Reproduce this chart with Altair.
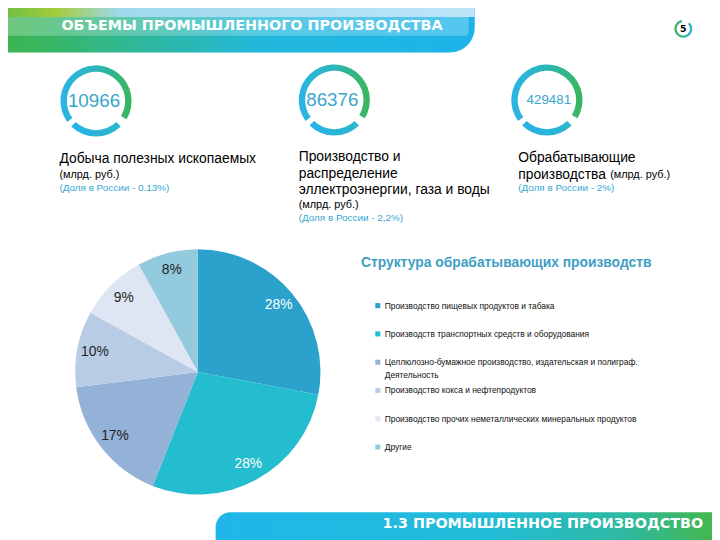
import math
import altair as alt
import pandas as pd

OX, OY = 8, 8          # page margin offset
W, H = 712, 532

# ---------------- data ----------------
sectors = [
    "Производство пищевых продуктов и табака",
    "Производств транспортных средств и оборудования",
    "Целлюлозно-бумажное производство, издательская и полиграф.\nДеятельность",
    "Производство кокса и нефтепродуктов",
    "Производство прочих неметаллических минеральных продуктов",
    "Другие",
]
shares = [28, 28, 17, 10, 9, 8]
palette = ["#2aa2cc", "#24bccf", "#94b2d7", "#b9cce6", "#dde6f2", "#94cade"]

kpi_values = ["10966", "86376", "429481"]
kpi_titles = [
    ["Добыча полезных ископаемых"],
    ["Производство и", "распределение", "эллектроэнергии, газа и воды"],
    ["Обрабатывающие", "производства"],
]
unit_label = "(млрд. руб.)"
kpi_shares = ["(Доля в России - 0.13%)", "(Доля в России - 2,2%)", "(Доля в России - 2%)"]

header_title = "ОБЪЕМЫ ПРОМЫШЛЕННОГО ПРОИЗВОДСТВА"
footer_title = "1.3 ПРОМЫШЛЕННОЕ ПРОИЗВОДСТВО"
page_no = "5"
pie_title = "Структура обрабатывающих производств"

# ---------------- helpers ----------------
one = alt.Data(values=[{"a": 1}])


def grad(stops, horizontal=True):
    return alt.LinearGradient(
        gradient="linear",
        stops=[alt.GradientStop(color=c, offset=o) for o, c in stops],
        x1=0, x2=1 if horizontal else 0, y1=0, y2=0 if horizontal else 1,
    )


def rect(x1, y1, x2, y2, fill, **kw):
    return alt.Chart(one).mark_rect(fill=fill, **kw).encode(
        x=alt.value(x1 - OX), x2=alt.value(x2 - OX),
        y=alt.value(y1 - OY), y2=alt.value(y2 - OY),
    )


def text(s, x, y, size, color="#000000", weight="normal", align="left",
         font="Liberation Sans", baseline="middle"):
    return alt.Chart(one).mark_text(
        text=s, fontSize=size, color=color, fontWeight=weight, align=align,
        font=font, baseline=baseline,
    ).encode(x=alt.value(x - OX), y=alt.value(y - OY))


def arc(cx, cy, r, r2, t1, t2, fill):
    return alt.Chart(one).mark_arc(
        radius=r, radius2=r2, theta=math.radians(t1), theta2=math.radians(t2),
        fill=fill,
    ).encode(x=alt.value(cx - OX), y=alt.value(cy - OY))


layers = []

# ---------------- header band ----------------
layers.append(rect(0, 0, 480, 50,
                   grad([(0, "#3db54a"), (0.3, "#2eb79c"), (0.55, "#22b8dc"), (1, "#1cb3ea")]),
                   cornerRadiusBottomRight=30))
layers.append(rect(0, 14, 474, 33, "#ffffff", opacity=0.25, cornerRadiusBottomRight=4))
layers.append(rect(0, 0, 480, 14,
                   grad([(0, "#6cbd45"), (0.12, "#a5cd3b"), (0.25, "#9fd8ec"), (1, "#bde5f8")])))
layers.append(text(header_title, 62, 23, 14.5, "#ffffff", "bold", font="DejaVu Sans"))

# page number
layers.append(arc(691, 26, 9, 6.8, 45, 350,
                  grad([(0, "#3ab55a"), (1, "#2ab4d0")])))
layers.append(text(page_no, 691, 26, 9.5, "#000000", "bold", "center", font="DejaVu Sans"))

# ---------------- KPI rings ----------------
ring_fill = grad([(0, "#29b5e6"), (0.5, "#2bb6b8"), (1, "#3ab65a")])
bottom_fill = grad([(0, "#27b2e6"), (1, "#2cb7cc")])
centers = [(97, 99), (338, 98), (553, 98)]
num_sizes = [19, 19, 13.5]
for (cx, cy), val, ns in zip(centers, kpi_values, num_sizes):
    layers.append(arc(cx, cy, 36, 29.5, 234, 481, ring_fill))
    layers.append(arc(cx, cy, 36, 29.5, 136, 224, bottom_fill))
    layers.append(text(val, cx - 2 if ns > 15 else cx + 2, cy, ns, "#3aa6cb", align="center"))

teal = "#35a8d2"
# KPI 1
layers.append(text(kpi_titles[0][0], 60, 158, 14))
layers.append(text(unit_label, 60, 174, 11))
layers.append(text(kpi_shares[0], 60, 187, 10, teal))
# KPI 2
for i, line in enumerate(kpi_titles[1]):
    layers.append(text(line, 302, 156 + 16.5 * i, 14))
layers.append(text(unit_label, 302, 204, 11))
layers.append(text(kpi_shares[1], 302, 217, 10, teal))
# KPI 3
layers.append(text(kpi_titles[2][0], 524, 157, 14))
layers.append(text(kpi_titles[2][1], 524, 174, 14))
layers.append(text(unit_label, 617, 174, 11))
layers.append(text(kpi_shares[2], 524, 187, 10, teal))

# ---------------- pie ----------------
df = pd.DataFrame({"idx": list(range(len(sectors))), "sector": sectors, "share": shares})
color_scale = alt.Scale(domain=sectors, range=palette)
PX, PY = 200, 373

base = alt.Chart(df).encode(
    theta=alt.Theta("share:Q", stack=True),
    order=alt.Order("idx:Q"),
    x=alt.value(PX - OX), y=alt.value(PY - OY),
)
layers.append(base.mark_arc(radius=124).encode(
    color=alt.Color("sector:N", scale=color_scale, legend=None)))
layers.append(base.mark_text(radius=106, fontSize=14, font="Liberation Sans")
              .transform_calculate(label="datum.share + '%'")
              .encode(text=alt.Text("label:N"),
                      color=alt.condition("datum.share >= 20", alt.value("#ffffff"),
                                          alt.value("#1e1e1e"))))

# ---------------- legend ----------------
layers.append(text(pie_title, 365, 263, 14, "#3f9fc3", "bold"))
leg = alt.Chart(df).encode(
    y=alt.Y("idx:Q", scale=alt.Scale(domain=[0, 5], range=[306 - OY, 449 - OY]), axis=None))
layers.append(leg.mark_square(size=26, opacity=1, filled=True).encode(
    x=alt.value(382 - OX),
    color=alt.Color("sector:N", scale=color_scale, legend=None)))
layers.append(leg.mark_text(align="left", baseline="alphabetic", dy=3, fontSize=8.5,
                            font="Liberation Sans", lineBreak="\n", lineHeight=12.5,
                            color="#111111").encode(
    x=alt.value(389 - OX), text="sector:N"))

# ---------------- footer band ----------------
layers.append(rect(218, 515, 725, 545,
                   grad([(0, "#20b6ea"), (0.55, "#22bcd8"), (0.82, "#2fb9a0"), (1, "#45b649")]),
                   cornerRadiusTopLeft=22))
layers.append(text(footer_title, 711, 527, 14.5, "#ffffff", "bold", "right", font="DejaVu Sans"))

chart = alt.layer(*layers).properties(
    width=W, height=H, padding=0, background="#ffffff",
    autosize=alt.AutoSizeParams(type="none"),
).configure_view(stroke=None)

chart.save("out.html", embed_options={"renderer": "svg", "actions": False})
